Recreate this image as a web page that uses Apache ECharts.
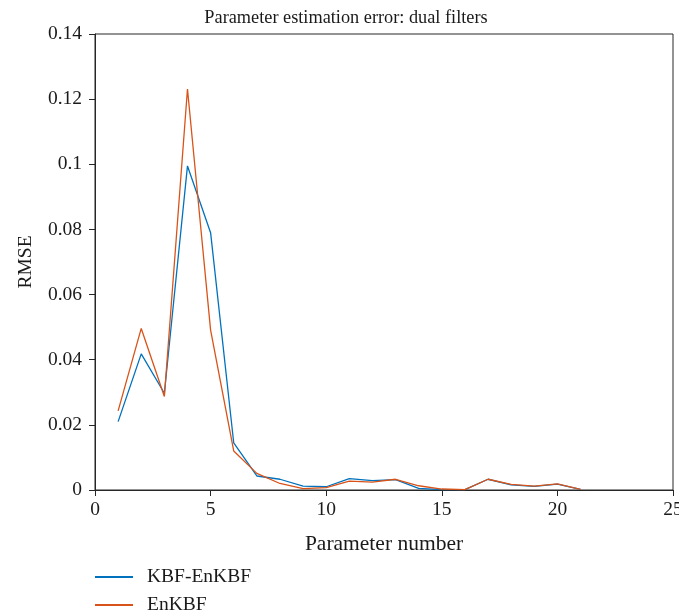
<!DOCTYPE html>
<html>
<head>
<meta charset="utf-8">
<script src="https://cdn.jsdelivr.net/npm/echarts@6/dist/echarts.min.js"></script>
<style>html,body{margin:0;padding:0;background:#fff}#c{width:679px;height:616px}</style>
</head>
<body>
<div id="c"></div>
<script>
var paramNumbers = [1,2,3,4,5,6,7,8,9,10,11,12,13,14,15,16,17,18,19,20,21];
var kbfEnkbf = [0.0210,0.0418,0.0297,0.0995,0.0790,0.0145,0.0043,0.0033,0.0012,0.0010,0.0035,0.0029,0.0032,0.0005,0.0001,0.0001,0.0033,0.0016,0.0011,0.0018,0.0002];
var enkbf = [0.0243,0.0496,0.0287,0.1231,0.0491,0.0120,0.0051,0.0020,0.0004,0.0007,0.0027,0.0024,0.0033,0.0013,0.0003,0.0001,0.0033,0.0017,0.0012,0.0019,0.0002];
var seriesNames = ['KBF-EnKBF','EnKBF'];
var font = '"Liberation Serif", "DejaVu Serif", serif';
function pairs(ys){ return paramNumbers.map(function(x,i){ return [x, ys[i]]; }); }
var chart = echarts.init(document.getElementById('c'), null, {renderer:'canvas'});
var legendText = {fontFamily:font, fontSize:19.5, color:'#1a1a1a', padding:[0,0,0,9]};
chart.setOption({
  animation:false,
  backgroundColor:'#fff',
  textStyle:{fontFamily:font},
  title:{text:'Parameter estimation error: dual filters', left:341, top:4, textAlign:'center',
    textStyle:{fontFamily:font, fontSize:18.3, fontWeight:'normal', color:'#1a1a1a'}},
  grid:{left:95, right:6, top:34, bottom:126, outerBoundsMode:'none', containLabel:false,
    show:true, borderColor:'#262626', borderWidth:1, backgroundColor:'transparent'},
  xAxis:{type:'value', min:0, max:25, interval:5,
    name:'Parameter number', nameLocation:'middle', nameGap:43,
    nameTextStyle:{fontFamily:font, fontSize:21.5, color:'#1a1a1a'},
    axisLine:{show:true, lineStyle:{color:'#262626', width:1}},
    axisTick:{show:true, inside:false, length:6, lineStyle:{color:'#262626'}},
    axisLabel:{fontFamily:font, fontSize:19.5, color:'#1a1a1a', margin:10, showMaxLabel:true},
    splitLine:{show:false}},
  yAxis:{type:'value', min:0, max:0.14, interval:0.02,
    name:'RMSE', nameLocation:'middle', nameGap:59, nameRotate:90,
    nameTextStyle:{fontFamily:font, fontSize:19.5, color:'#1a1a1a'},
    axisLine:{show:true, lineStyle:{color:'#262626', width:1}},
    axisTick:{show:true, inside:false, length:6, lineStyle:{color:'#262626'}},
    axisLabel:{fontFamily:font, fontSize:19.5, color:'#1a1a1a', margin:13,
      formatter:function(v){ return v===0 ? '0' : String(parseFloat(v.toFixed(4))); }},
    splitLine:{show:false}},
  legend:[
    {left:95, top:567, padding:0, itemWidth:38, itemHeight:2, icon:'rect', textStyle:legendText, data:[seriesNames[0]]},
    {left:95, top:595, padding:0, itemWidth:38, itemHeight:2, icon:'rect', textStyle:legendText, data:[seriesNames[1]]}
  ],
  series:[
    {name:seriesNames[0], type:'line', data:pairs(kbfEnkbf), symbol:'none', showSymbol:false,
      lineStyle:{color:'#0072BD', width:1.3}, itemStyle:{color:'#0072BD'}, z:2},
    {name:seriesNames[1], type:'line', data:pairs(enkbf), symbol:'none', showSymbol:false,
      lineStyle:{color:'#D95319', width:1.3}, itemStyle:{color:'#D95319'}, z:3}
  ]
});
</script>
</body>
</html>
